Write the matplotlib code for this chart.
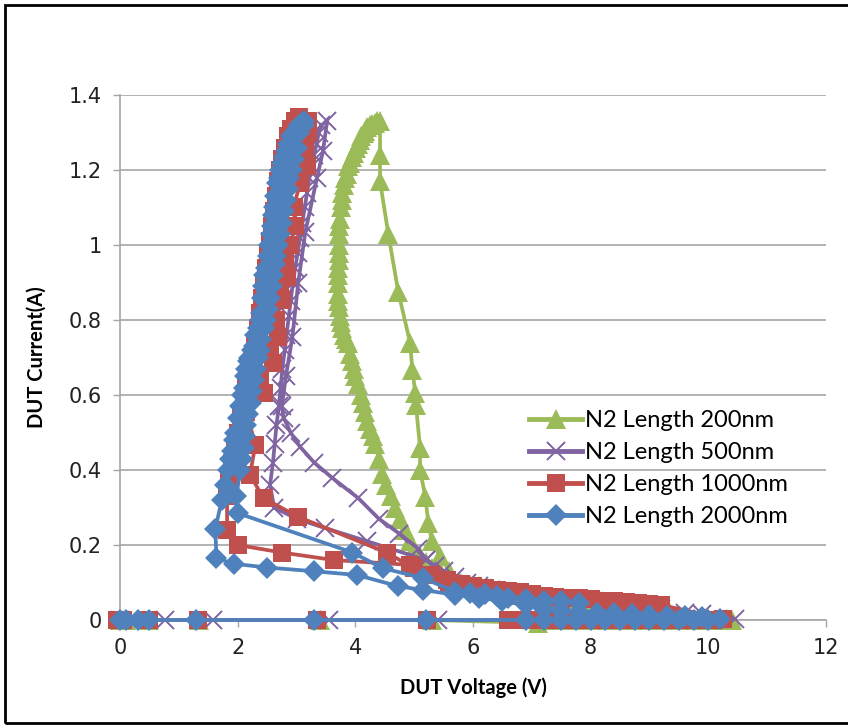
"""
DUT I-V (TLP) curves for four N2 lengths, Excel-style scatter with lines.
"""
import numpy as np
import matplotlib
matplotlib.use("Agg")
import matplotlib.pyplot as plt
from matplotlib.patches import Rectangle

nan = np.nan

# ── Data (V, A), NaN splits a second measurement branch ──
v_200 = [0.0, 0.1, 0.5, 1.35, 3.4, 5.3, 7.1, 7.4, 7.7, 8.0, 8.3, 8.6, 8.9, 9.2,
         9.5, 9.8, 10.1, 10.4,
         9.3, 9.1, 8.9, 8.6, 8.4, 8.2, 8.0, 7.8, 7.6, 7.4, 7.2, 7.0, 6.8, 6.6,
         6.45, 6.3, 6.1, 5.95, 5.8, 5.6, 5.45, 5.3, 5.2, 5.1, 5.0, 4.93,
         4.85, 4.76, 4.68, 4.6, 4.52, 4.45, 4.4, 4.34, 4.3, 4.25, 4.2, 4.17,
         4.13, 4.1, 4.05, 4.0, 3.97, 3.94, 3.91, 3.88, 3.84, 3.8, 3.77, 3.76,
         3.74, 3.72, 3.71, 3.7, 3.7, 3.71, 3.71, 3.72, 3.72, 3.72, 3.73, 3.73,
         3.74, 3.75, 3.77, 3.78, 3.8, 3.83, 3.85, 3.88, 3.91, 3.94, 3.97, 4.01,
         4.05, 4.08, 4.1, 4.14, 4.17, 4.2, 4.25, 4.29, 4.33, 4.37, 4.42,
         4.42, 4.42, 4.56, 4.73, 4.93, 4.97, 5.02, 5.03, 5.1, 5.1, 5.19, 5.24,
         5.3, 5.44, 5.6]
i_200 = [0.0, 0.0, 0.0, 0.0, 0.0, 0.0, -0.008, 0.0, 0.0, 0.0, 0.0, 0.0, 0.0,
         0.0, 0.0, 0.0, 0.0, 0.0,
         0.035, 0.038, 0.04, 0.045, 0.045, 0.05, 0.052, 0.055, 0.057, 0.06,
         0.062, 0.065, 0.07, 0.075, 0.08, 0.085, 0.09, 0.093, 0.1, 0.11, 0.125,
         0.14, 0.155, 0.17, 0.19, 0.21, 0.24, 0.27, 0.3, 0.33, 0.36, 0.39, 0.43,
         0.47, 0.49, 0.51, 0.53, 0.555, 0.58, 0.6, 0.63, 0.65, 0.67, 0.69, 0.71,
         0.74, 0.75, 0.76, 0.78, 0.795, 0.81, 0.835, 0.85, 0.87, 0.9, 0.92,
         0.94, 0.96, 0.98, 1.0, 1.03, 1.05, 1.07, 1.1, 1.12, 1.14, 1.16, 1.18,
         1.19, 1.21, 1.22, 1.235, 1.245, 1.26, 1.27, 1.28, 1.29, 1.3, 1.305,
         1.315, 1.32, 1.322, 1.325, 1.33, 1.33,
         1.24, 1.17, 1.03, 0.875, 0.74, 0.667, 0.605, 0.573, 0.46, 0.4, 0.328,
         0.26, 0.21, 0.17, 0.13]

v_500 = [0.0, 0.77, 1.58, 3.55, 5.4, 7.0, 7.5, 8.0, 8.5, 9.0, 9.5, 10.0, 10.45,
         9.9, 9.6, 9.2, 8.95, 8.7, 8.45, 8.2, 7.95, 7.7, 7.5, 7.3, 7.05, 6.8,
         6.55, 6.3, 6.1, 5.9, 5.7, 5.5, 5.35, 5.2, 5.07, 4.75, 4.4, 4.05, 3.6,
         3.3, 3.06, 2.9, 2.78, 2.75, 2.82, 2.93, 3.03, 3.15, 3.35, 3.45, 3.52,
         nan,
         5.2, 4.2, 3.49, 3.0, 2.62, 2.55, 2.6, 2.63, 2.66, 2.7, 2.73, 2.76,
         2.8, 2.83, 2.87, 2.9, 2.94, 2.98, 3.02, 3.06, 3.1, 3.14, 3.18, 3.22,
         3.26, 3.3, 3.34, 3.38, 3.42]
i_500 = [0.0, 0.0, 0.0, 0.0, 0.0, 0.0, 0.0, 0.0, 0.0, 0.0, 0.0, 0.0, 0.003,
         0.015, 0.02, 0.03, 0.035, 0.04, 0.042, 0.045, 0.048, 0.05, 0.053,
         0.055, 0.06, 0.065, 0.072, 0.08, 0.09, 0.1, 0.115, 0.13, 0.145, 0.16,
         0.19, 0.23, 0.27, 0.325, 0.38, 0.42, 0.462, 0.5, 0.54, 0.57, 0.65,
         0.755, 0.9, 1.035, 1.18, 1.25, 1.33,
         nan,
         0.16, 0.21, 0.245, 0.27, 0.3, 0.36, 0.42, 0.47, 0.52, 0.57, 0.62,
         0.67, 0.72, 0.76, 0.81, 0.85, 0.9, 0.94, 0.98, 1.02, 1.06, 1.1, 1.14,
         1.18, 1.21, 1.24, 1.27, 1.3, 1.32]

v_1000 = [-0.05, 0.05, 0.5, 1.33, 3.35, 5.22, 6.6, 6.85, 7.1, 7.35, 7.6, 7.85,
          8.1, 8.35, 8.6, 8.85, 9.1, 9.35, 9.6, 9.85, 10.1, 10.25,
          9.2, 9.0, 8.8, 8.6, 8.4, 8.2, 8.0, 7.8, 7.6, 7.4, 7.2, 7.0, 6.8, 6.6,
          6.4, 6.2, 6.0, 5.8, 5.55, 5.3, 5.0, 4.53, 3.03,
          2.44, 2.21, 2.3, 2.15, 2.44, 2.38, 2.6, 2.55, 2.69, 2.65, 2.75, 2.72,
          2.84, 2.8, 2.89, 2.98, 2.95, 3.06, 3.18, 3.15, 3.2, 3.2,
          nan,
          6.2, 5.6, 4.93, 3.63, 2.75, 2.0, 1.82, 1.82, 1.86, 1.9, 1.95, 2.0,
          2.05, 2.1, 2.15, 2.2, 2.25, 2.3, 2.34, 2.38, 2.42, 2.45, 2.49, 2.52,
          2.55, 2.58, 2.62, 2.65, 2.69, 2.72, 2.76, 2.8, 2.85, 2.9, 2.97, 3.05]
i_1000 = [0.0, 0.0, 0.0, 0.0, 0.0, 0.0, 0.0, 0.0, 0.0, 0.0, 0.0, 0.0, 0.0,
          0.0, 0.0, 0.0, 0.0, 0.0, 0.0, 0.0, 0.0, 0.003,
          0.04, 0.042, 0.045, 0.048, 0.05, 0.052, 0.055, 0.058, 0.06, 0.062,
          0.065, 0.07, 0.075, 0.078, 0.08, 0.085, 0.09, 0.095, 0.107, 0.12,
          0.138, 0.18, 0.275,
          0.325, 0.387, 0.467, 0.555, 0.605, 0.65, 0.685, 0.72, 0.755, 0.8,
          0.853, 0.88, 0.915, 0.96, 1.0, 1.05, 1.1, 1.165, 1.21, 1.26, 1.3,
          1.33,
          nan,
          0.085, 0.1, 0.147, 0.16, 0.18, 0.2, 0.24, 0.33, 0.37, 0.42, 0.46,
          0.5, 0.54, 0.58, 0.62, 0.66, 0.7, 0.74, 0.78, 0.82, 0.86, 0.9, 0.94,
          0.98, 1.01, 1.05, 1.09, 1.13, 1.17, 1.2, 1.23, 1.26, 1.29, 1.31,
          1.33, 1.34]

v_2000 = [0.0, 0.1, 0.3, 0.5, 1.3, 3.3, 5.2, 6.9, 7.2, 7.5, 7.75, 8.0, 8.25,
          8.5, 8.75, 9.0, 9.25, 9.5, 9.75, 10.0, 10.2,
          9.9, 9.6, 9.3, 9.0, 8.7, 8.4, 8.1, 7.8, 7.5, 7.2, 6.9, 6.5, 6.1, 5.7,
          5.15, 4.73, 4.03, 3.3, 2.5, 1.93, 1.64, 1.62,
          1.73, 1.78, 1.84, 1.87, 1.9, 1.93, 1.95, 2.0, 2.04, 2.07, 2.1, 2.13,
          2.15, 2.18, 2.2, 2.24, 2.27, 2.3, 2.34, 2.38, 2.4, 2.41, 2.43, 2.45,
          2.48, 2.52, 2.54, 2.56, 2.58, 2.6, 2.62, 2.64, 2.67, 2.7, 2.72, 2.75,
          2.78, 2.82, 2.86, 2.9, 2.95, 3.0, 3.05, 3.1, 3.13,
          nan,
          7.8, 7.5, 7.2, 6.9, 6.6, 6.4, 6.2, 5.95, 5.7, 5.15, 4.47, 3.95, 2.0,
          1.98, 2.04, 2.07, 2.1, 2.13, 2.15, 2.18, 2.22, 2.25, 2.28, 2.32,
          2.35, 2.38, 2.4, 2.44, 2.48, 2.52, 2.55, 2.58, 2.6, 2.63, 2.66, 2.69,
          2.72, 2.75, 2.78, 2.82, 2.85, 2.88, 2.92, 2.96, 3.0, 3.05, 3.12]
i_2000 = [0.0, 0.0, 0.0, 0.0, 0.0, 0.0, 0.0, 0.0, 0.0, 0.0, 0.0, 0.0, 0.0,
          0.0, 0.0, 0.0, 0.0, 0.0, 0.0, 0.0, 0.003,
          0.008, 0.01, 0.012, 0.014, 0.016, 0.018, 0.02, 0.022, 0.025, 0.03,
          0.04, 0.05, 0.06, 0.067, 0.08, 0.09, 0.12, 0.13, 0.14, 0.15, 0.165,
          0.243,
          0.32, 0.36, 0.4, 0.43, 0.45, 0.48, 0.5, 0.54, 0.57, 0.6, 0.62, 0.65,
          0.67, 0.69, 0.7, 0.72, 0.73, 0.76, 0.78, 0.8, 0.82, 0.86, 0.89, 0.92,
          0.94, 0.97, 1.0, 1.03, 1.05, 1.08, 1.1, 1.13, 1.165, 1.18, 1.2, 1.22,
          1.235, 1.25, 1.27, 1.29, 1.3, 1.31, 1.32, 1.325, 1.33,
          nan,
          0.045, 0.05, 0.052, 0.055, 0.06, 0.065, 0.07, 0.072, 0.075, 0.112,
          0.138, 0.18, 0.285,
          0.33, 0.4, 0.43, 0.46, 0.49, 0.52, 0.55, 0.58, 0.61, 0.64, 0.67, 0.7,
          0.72, 0.75, 0.78, 0.8, 0.83, 0.86, 0.89, 0.92, 0.95, 0.97, 1.0,
          1.03, 1.06, 1.09, 1.12, 1.15, 1.18, 1.2, 1.23, 1.26, 1.3, 1.32]

labels = ["N2 Length 200nm", "N2 Length 500nm", "N2 Length 1000nm", "N2 Length 2000nm"]
x_ticks = [0, 2, 4, 6, 8, 10, 12]
y_ticks = [0, 0.2, 0.4, 0.6, 0.8, 1.0, 1.2, 1.4]
y_ticklabels = ["0", "0.2", "0.4", "0.6", "0.8", "1", "1.2", "1.4"]

# ── Excel 2007 palette ──
GREEN = "#9BBB59"
PURPLE = "#8064A2"
RED = "#C0504D"
BLUE = "#4F81BD"
GRID = "#A6A6A6"

plt.rcParams["font.family"] = ["Lato", "DejaVu Sans"]

fig = plt.figure(figsize=(8.48, 7.26), dpi=100)
ax = fig.add_axes([120 / 848, 1 - 620 / 726, 706 / 848, 525 / 726])

styles = [
    (v_200, i_200, GREEN, dict(marker="^", markersize=15, markeredgewidth=0)),
    (v_500, i_500, PURPLE, dict(marker="x", markersize=13, markeredgewidth=1.4)),
    (v_1000, i_1000, RED, dict(marker="s", markersize=13.5, markeredgewidth=0)),
    (v_2000, i_2000, BLUE, dict(marker="D", markersize=11.5, markeredgewidth=0)),
]
for (vx, iy, col, mk), lab in zip(styles, labels):
    ax.plot(vx, iy, color=col, linewidth=2.7, label=lab, clip_on=False,
            solid_joinstyle="round", zorder=3, **mk)

ax.set_xlim(0, 12)
ax.set_ylim(0, 1.4)
ax.set_xticks(x_ticks)
ax.set_xticklabels([str(t) for t in x_ticks])
ax.set_yticks(y_ticks)
ax.set_yticklabels(y_ticklabels)
ax.tick_params(axis="both", direction="out", length=5, width=1, color=GRID,
               labelsize=15, pad=8)
for lab in ax.get_xticklabels() + ax.get_yticklabels():
    lab.set_family(["Liberation Sans Narrow", "DejaVu Sans"])
    lab.set_color("#222222")

ax.yaxis.grid(True, color=GRID, linewidth=1.2)
ax.set_axisbelow(True)
for side in ["top", "right"]:
    ax.spines[side].set_visible(False)
for side in ["left", "bottom"]:
    ax.spines[side].set_color(GRID)
    ax.spines[side].set_linewidth(1.2)

ax.set_xlabel("DUT Voltage (V)", fontsize=14.5, fontweight="bold", labelpad=14)
ax.set_ylabel("DUT Current(A)", fontsize=14.5, fontweight="bold", labelpad=16)

leg = ax.legend(loc="upper left", bbox_to_anchor=(0.566, 0.418), frameon=False,
                fontsize=17, handlelength=2.25, handletextpad=0.1,
                labelspacing=0.47, borderaxespad=0)
for h in leg.get_lines():
    h.set_linewidth(3.5)

# outer frame around the whole chart area
fig.patches.append(Rectangle((5 / 848, 3 / 726), 1.0, 718 / 726,
                             transform=fig.transFigure, fill=False,
                             edgecolor="black", linewidth=2))

fig.savefig("out.png", dpi=100)
